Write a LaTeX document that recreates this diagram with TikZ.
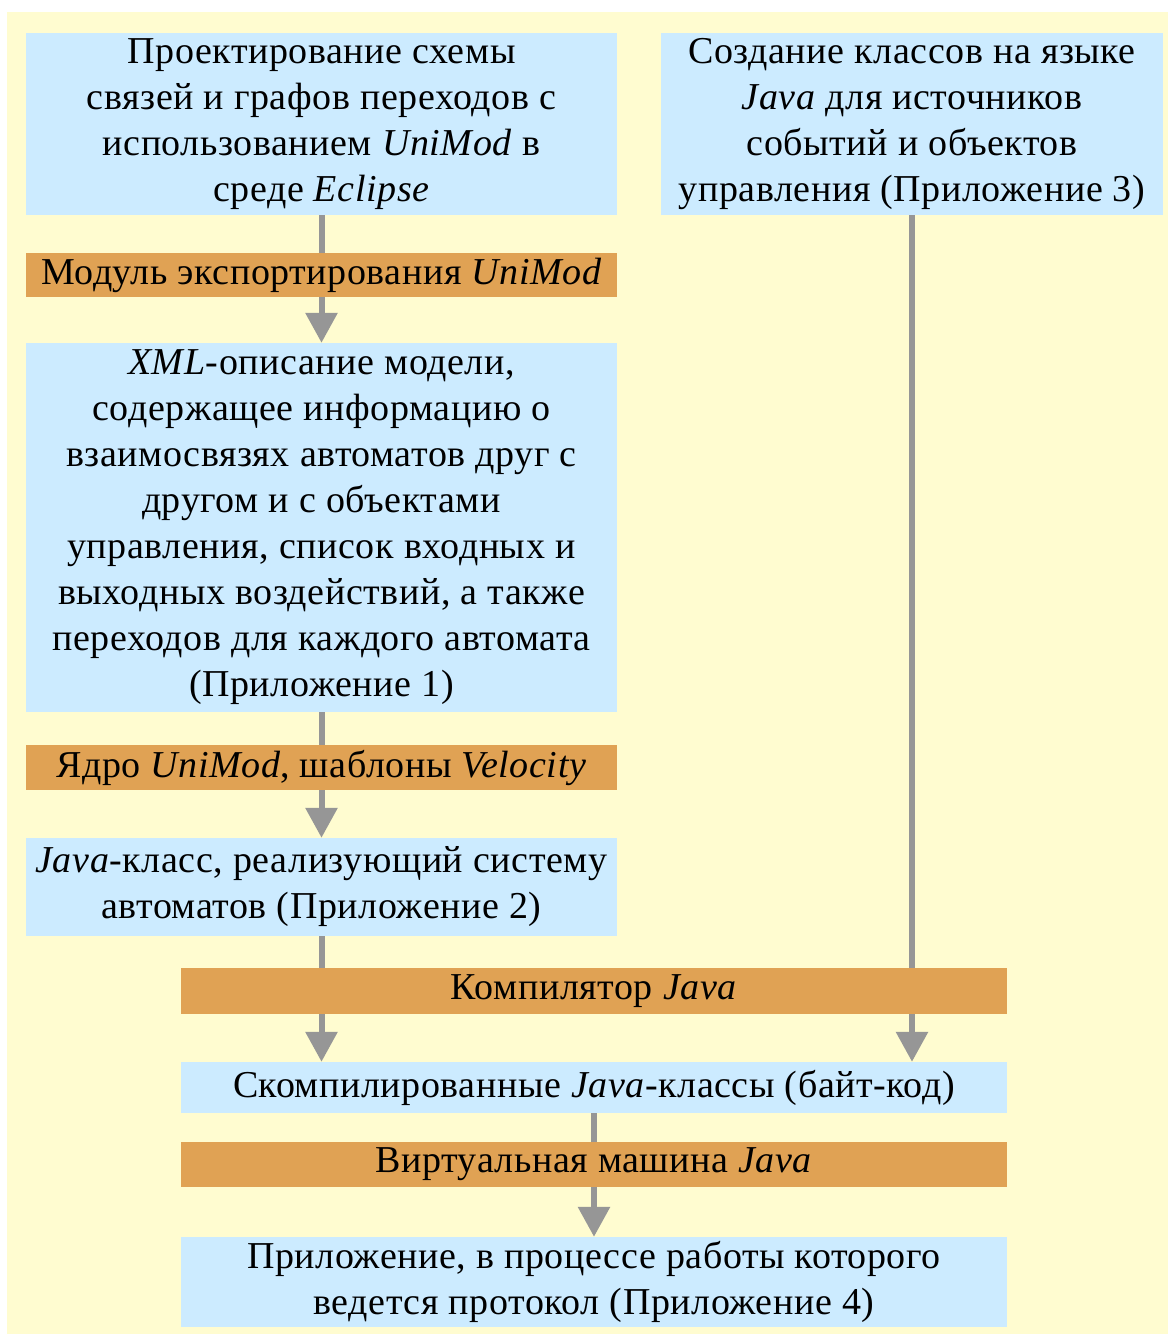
\documentclass[tikz,border=0pt]{standalone}
\usepackage{fontspec}
\setmainfont{Liberation Serif}[LetterSpace=1.5]
\usepackage{tikz}
\usetikzlibrary{arrows.meta}

\definecolor{boxblue}{RGB}{204,235,255}
\definecolor{toolorange}{RGB}{224,162,84}
\definecolor{bgyellow}{RGB}{255,252,208}
\definecolor{arrowgray}{RGB}{150,150,150}

\begin{document}
\begin{tikzpicture}[x=1pt, y=-1pt,
    stage/.style={rectangle, fill=boxblue, inner sep=0pt, align=center, font=\fontsize{38}{46}\selectfont},
    tool/.style={rectangle, fill=toolorange, inner sep=0pt, align=center, font=\fontsize{38}{46}\selectfont},
    flow/.style={-{Triangle[width=31pt,length=30pt]}, line width=6pt, arrowgray}]
    \useasboundingbox (0,0) rectangle (1168,1334);
    \fill[bgyellow] (7,12) rectangle (1168,1334);

    \node[stage, minimum width=591pt, minimum height=182pt] at (321.5,124) (design)
        {Проектирование схемы\\связей и графов переходов с\\использованием \textit{UniMod} в\\среде \textit{Eclipse}};
    \node[stage, minimum width=502pt, minimum height=182pt] at (912,124) (classes)
        {Создание классов на языке\\\textit{Java} для источников\\событий и объектов\\управления (Приложение 3)};
    \node[stage, minimum width=591pt, minimum height=369pt] at (321.5,527.5) (xml)
        {\textit{XML}-описание модели,\\содержащее информацию о\\взаимосвязях автоматов друг с\\другом и с объектами\\управления, список входных и\\выходных воздействий, а также\\переходов для каждого автомата\\(Приложение 1)};
    \node[stage, minimum width=591pt, minimum height=98pt] at (321.5,887) (javaclass)
        {\textit{Java}-класс, реализующий систему\\автоматов (Приложение 2)};
    \node[stage, minimum width=826pt, minimum height=51pt] at (594,1087.5) (bytecode)
        {Скомпилированные \textit{Java}-классы (байт-код)};
    \node[stage, minimum width=826pt, minimum height=90pt] at (594,1282) (app)
        {Приложение, в процессе работы которого\\ведется протокол (Приложение 4)};

    \draw[flow] (design) -- (xml);
    \draw[flow] (xml) -- (javaclass);
    \draw[flow] (javaclass.south) -- (javaclass.south |- bytecode.north);
    \draw[flow] (classes.south) -- (classes.south |- bytecode.north);
    \draw[flow] (bytecode.south) -- (app);

    \node[tool, minimum width=591pt, minimum height=44pt] at (321.5,275) (export)
        {Модуль экспортирования \textit{UniMod}};
    \node[tool, minimum width=591pt, minimum height=45pt] at (321.5,767.5) (core)
        {Ядро \textit{UniMod}, шаблоны \textit{Velocity}};
    \node[tool, minimum width=826pt, minimum height=46pt] at (594,991) (compiler)
        {Компилятор \textit{Java}};
    \node[tool, minimum width=826pt, minimum height=45pt] at (594,1164.5) (jvm)
        {Виртуальная машина \textit{Java}};
\end{tikzpicture}
\end{document}
